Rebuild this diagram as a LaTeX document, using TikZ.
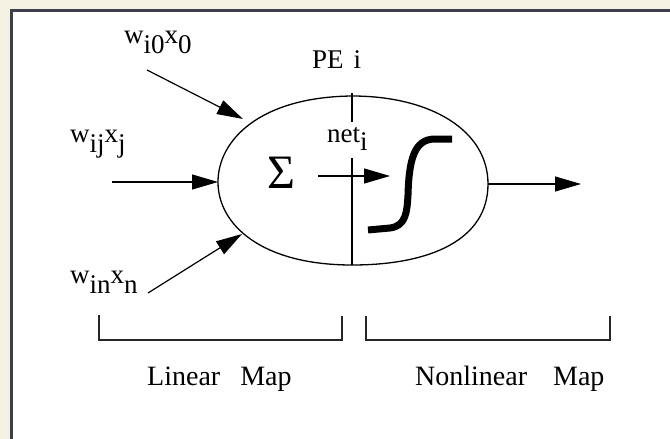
\documentclass[tikz,border=0pt]{standalone}
\usepackage{fontspec}
\setmainfont{Liberation Serif}
\usetikzlibrary{arrows.meta}
\definecolor{paper}{RGB}{245,241,226}
\definecolor{frameline}{RGB}{62,62,78}
\newcommand{\lowsub}[1]{\raisebox{-10pt}{#1}}
\tikzset{
  wire/.style={line width=1.2pt, draw=black, -{Triangle[length=26pt,width=15pt]}},
  tick/.style={line width=1.2pt, draw=black},
  body/.style={line width=1.3pt, draw=black},
  sigmoid/.style={line width=7pt, draw=black, line cap=butt, line join=round},
  bracket/.style={line width=1.3pt, draw=black!85},
  lbl/.style={font=\fontsize{27}{32}\selectfont, inner sep=0pt, anchor=base west},
  maplbl/.style={font=\fontsize{28}{32}\selectfont, inner sep=0pt, anchor=base west},
}

\begin{document}
\begin{tikzpicture}[x=1pt,y=-1pt]
\useasboundingbox (0,0) rectangle (670,439);
\fill[paper] (0,0) rectangle (670,439);
\fill[white] (11,10) rectangle (680,450);
\draw[frameline, line width=3pt] (11,450) -- (11,10) -- (680,10);
\coordinate (peleft) at (218,182);
\coordinate (petop) at (352,96);
\coordinate (peright) at (488,184);
\coordinate (pebottom) at (352,265);
\draw[body] (peleft) .. controls (218,140) and (260,97) .. (petop)
  .. controls (430,96) and (488,130) .. (peright)
  .. controls (488,240) and (430,265) .. (pebottom)
  .. controls (262,265) and (218,225) .. (peleft) -- cycle;
\node[lbl] (wzero) at (124,43) {w\lowsub{i0}x\lowsub{0}};
\node[lbl] (wj) at (70,142) {w\lowsub{ij}x\lowsub{j}};
\node[lbl] (wn) at (70,283) {w\lowsub{in}x\lowsub{n}};
\node[lbl] (pename) at (312,68) {PE\hspace{10pt}i};
\node[lbl] (net) at (327,142) {net\raisebox{-8pt}{i}};
\node[font=\fontsize{48}{50}\selectfont, inner sep=0pt] (sum) at (281,173) {Σ};
\coordinate (inzero) at (147,70);
\coordinate (tipzero) at (243,119);
\coordinate (inj) at (112,182);
\coordinate (inn) at (148,293);
\coordinate (tipn) at (242,234);
\coordinate (netfrom) at (318,176);
\coordinate (netto) at (390,176);
\coordinate (outto) at (581,184);
\draw[wire] (inzero) -- (tipzero);
\draw[wire] (inj) -- (peleft);
\draw[wire] (inn) -- (tipn);
\draw[tick] (352,93) -- (352,122);
\draw[tick] (352,158) -- (pebottom);
\draw[wire] (netfrom) -- (netto);
\draw[sigmoid] (368,230) -- (390,228) .. controls (406,226) and (407,212) .. (408,195)
  .. controls (409,160) and (414,139) .. (435,139) -- (452,139);
\draw[wire] (peright) -- (outto);
\draw[bracket] (99,315) |- (342,340) -- (342,316);
\draw[bracket] (366,316) |- (610,340) -- (610,316);
\node[maplbl] (linmap) at (147,385) {Linear\hspace{20pt}Map};
\node[maplbl] (nonmap) at (415,385) {Nonlinear\hspace{26pt}Map};
\end{tikzpicture}
\end{document}
